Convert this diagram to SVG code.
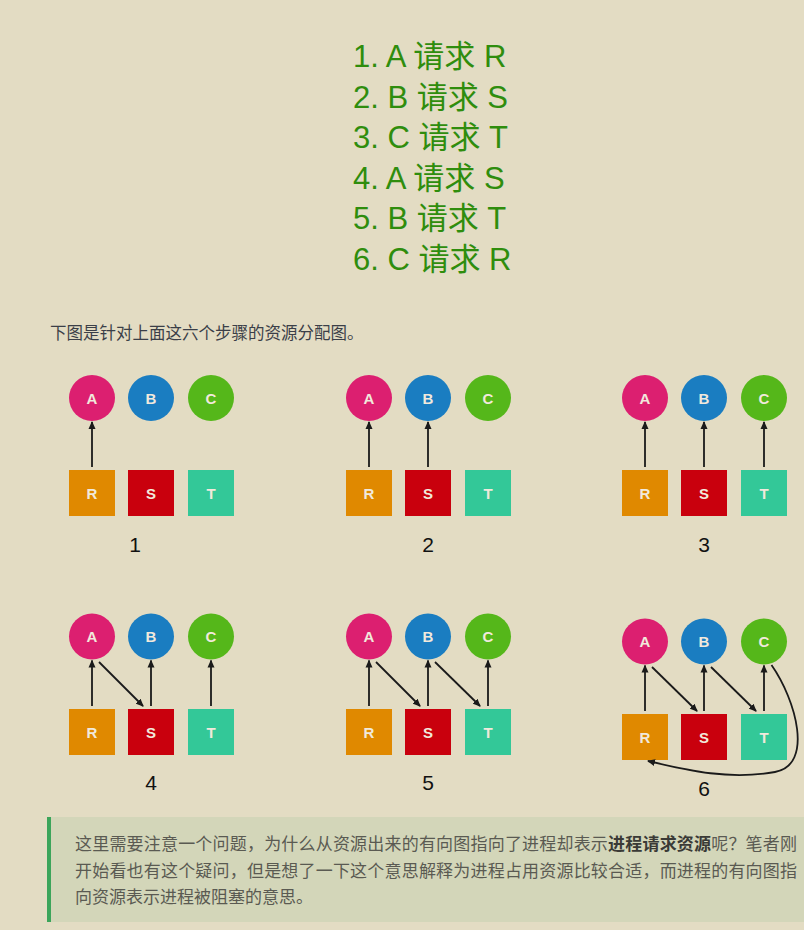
<svg xmlns="http://www.w3.org/2000/svg" width="804" height="930" viewBox="0 0 804 930">
<style>
.h{font-family:"Liberation Sans","Noto Sans CJK SC",sans-serif;font-size:31px;fill:#2f8d0d}
.cap{font-family:"Liberation Sans","Noto Sans CJK SC",sans-serif;font-size:16.5px;fill:#3b3f48}
.q{font-family:"Liberation Sans","Noto Sans CJK SC",sans-serif;font-size:17px;fill:#5a5a52}
.lbl{font-family:"Liberation Sans","Noto Sans CJK SC",sans-serif;font-size:15px;font-weight:bold;fill:#f1e9dc;text-anchor:middle}
.num{font-family:"Liberation Sans",sans-serif;font-size:21px;fill:#111;text-anchor:middle}
.A{fill:#dc1f70}.B{fill:#1a7dc1}.C{fill:#55b71a}
.R{fill:#e08900}.S{fill:#c9000d}.T{fill:#33c898}
.e{stroke:#1a1a1a;stroke-width:1.8;fill:none;marker-end:url(#ah)}
</style>
<defs>
<marker id="ah" markerWidth="8" markerHeight="8" refX="7" refY="4" orient="auto" markerUnits="userSpaceOnUse">
<path d="M0,0.5 L8,4 L0,7.5 Z" fill="#1a1a1a"/>
</marker>
</defs>
<rect width="804" height="930" fill="#e3dcc3"/>
<g id="steps">
<text class="h" x="353" y="67">1. A 请求 R</text>
<text class="h" x="353" y="107.5">2. B 请求 S</text>
<text class="h" x="353" y="148">3. C 请求 T</text>
<text class="h" x="353" y="188.5">4. A 请求 S</text>
<text class="h" x="353" y="229">5. B 请求 T</text>
<text class="h" x="353" y="269.5">6. C 请求 R</text>
</g>
<text class="cap" x="50" y="339">下图是针对上面这六个步骤的资源分配图。</text>

<!-- Panel 1 -->
<g id="p1">
<g id="p1-A"><circle class="A" cx="92" cy="398" r="23"/><text class="lbl" x="92" y="403.5">A</text></g>
<g id="p1-B"><circle class="B" cx="151" cy="398" r="23"/><text class="lbl" x="151" y="403.5">B</text></g>
<g id="p1-C"><circle class="C" cx="211" cy="398" r="23"/><text class="lbl" x="211" y="403.5">C</text></g>
<g id="p1-R"><rect class="R" x="69" y="470" width="46" height="46"/><text class="lbl" x="92" y="498.5">R</text></g>
<g id="p1-S"><rect class="S" x="128" y="470" width="46" height="46"/><text class="lbl" x="151" y="498.5">S</text></g>
<g id="p1-T"><rect class="T" x="188" y="470" width="46" height="46"/><text class="lbl" x="211" y="498.5">T</text></g>
<text class="num" x="135" y="552">1</text>
</g>
<!-- Panel 2 -->
<g id="p2">
<g id="p2-A"><circle class="A" cx="369" cy="398" r="23"/><text class="lbl" x="369" y="403.5">A</text></g>
<g id="p2-B"><circle class="B" cx="428" cy="398" r="23"/><text class="lbl" x="428" y="403.5">B</text></g>
<g id="p2-C"><circle class="C" cx="488" cy="398" r="23"/><text class="lbl" x="488" y="403.5">C</text></g>
<g id="p2-R"><rect class="R" x="346" y="470" width="46" height="46"/><text class="lbl" x="369" y="498.5">R</text></g>
<g id="p2-S"><rect class="S" x="405" y="470" width="46" height="46"/><text class="lbl" x="428" y="498.5">S</text></g>
<g id="p2-T"><rect class="T" x="465" y="470" width="46" height="46"/><text class="lbl" x="488" y="498.5">T</text></g>
<text class="num" x="428" y="552">2</text>
</g>
<!-- Panel 3 -->
<g id="p3">
<g id="p3-A"><circle class="A" cx="645" cy="398" r="23"/><text class="lbl" x="645" y="403.5">A</text></g>
<g id="p3-B"><circle class="B" cx="704" cy="398" r="23"/><text class="lbl" x="704" y="403.5">B</text></g>
<g id="p3-C"><circle class="C" cx="764" cy="398" r="23"/><text class="lbl" x="764" y="403.5">C</text></g>
<g id="p3-R"><rect class="R" x="622" y="470" width="46" height="46"/><text class="lbl" x="645" y="498.5">R</text></g>
<g id="p3-S"><rect class="S" x="681" y="470" width="46" height="46"/><text class="lbl" x="704" y="498.5">S</text></g>
<g id="p3-T"><rect class="T" x="741" y="470" width="46" height="46"/><text class="lbl" x="764" y="498.5">T</text></g>
<text class="num" x="704" y="552">3</text>
</g>
<!-- Panel 4 -->
<g id="p4">
<g id="p4-A"><circle class="A" cx="92" cy="636.5" r="23"/><text class="lbl" x="92" y="642">A</text></g>
<g id="p4-B"><circle class="B" cx="151" cy="636.5" r="23"/><text class="lbl" x="151" y="642">B</text></g>
<g id="p4-C"><circle class="C" cx="211" cy="636.5" r="23"/><text class="lbl" x="211" y="642">C</text></g>
<g id="p4-R"><rect class="R" x="69" y="709" width="46" height="46"/><text class="lbl" x="92" y="737.5">R</text></g>
<g id="p4-S"><rect class="S" x="128" y="709" width="46" height="46"/><text class="lbl" x="151" y="737.5">S</text></g>
<g id="p4-T"><rect class="T" x="188" y="709" width="46" height="46"/><text class="lbl" x="211" y="737.5">T</text></g>
<text class="num" x="151" y="790">4</text>
</g>
<!-- Panel 5 -->
<g id="p5">
<g id="p5-A"><circle class="A" cx="369" cy="636.5" r="23"/><text class="lbl" x="369" y="642">A</text></g>
<g id="p5-B"><circle class="B" cx="428" cy="636.5" r="23"/><text class="lbl" x="428" y="642">B</text></g>
<g id="p5-C"><circle class="C" cx="488" cy="636.5" r="23"/><text class="lbl" x="488" y="642">C</text></g>
<g id="p5-R"><rect class="R" x="346" y="709" width="46" height="46"/><text class="lbl" x="369" y="737.5">R</text></g>
<g id="p5-S"><rect class="S" x="405" y="709" width="46" height="46"/><text class="lbl" x="428" y="737.5">S</text></g>
<g id="p5-T"><rect class="T" x="465" y="709" width="46" height="46"/><text class="lbl" x="488" y="737.5">T</text></g>
<text class="num" x="428" y="790">5</text>
</g>
<!-- Panel 6 -->
<g id="p6">
<g id="p6-A"><circle class="A" cx="645" cy="641.5" r="23"/><text class="lbl" x="645" y="647">A</text></g>
<g id="p6-B"><circle class="B" cx="704" cy="641.5" r="23"/><text class="lbl" x="704" y="647">B</text></g>
<g id="p6-C"><circle class="C" cx="764" cy="641.5" r="23"/><text class="lbl" x="764" y="647">C</text></g>
<g id="p6-R"><rect class="R" x="622" y="714" width="46" height="46"/><text class="lbl" x="645" y="742.5">R</text></g>
<g id="p6-S"><rect class="S" x="681" y="714" width="46" height="46"/><text class="lbl" x="704" y="742.5">S</text></g>
<g id="p6-T"><rect class="T" x="741" y="714" width="46" height="46"/><text class="lbl" x="764" y="742.5">T</text></g>
<text class="num" x="704" y="796">6</text>
</g>

<g id="connectors">
<path class="e" d="M92,467 V422"/>
<path class="e" d="M369,467 V422"/>
<path class="e" d="M428,467 V422"/>
<path class="e" d="M645,467 V422"/>
<path class="e" d="M704,467 V422"/>
<path class="e" d="M764,467 V422"/>
<path class="e" d="M92,706 V660.5"/>
<path class="e" d="M99,662 L143,706"/>
<path class="e" d="M151,706 V660.5"/>
<path class="e" d="M211,706 V660.5"/>
<path class="e" d="M369,706 V660.5"/>
<path class="e" d="M376,662 L420,706"/>
<path class="e" d="M428,706 V660.5"/>
<path class="e" d="M435,662 L480,706"/>
<path class="e" d="M488,706 V660.5"/>
<path class="e" d="M645,711 V665.5"/>
<path class="e" d="M652,667 L697,711"/>
<path class="e" d="M704,711 V665.5"/>
<path class="e" d="M711,667 L756,711"/>
<path class="e" d="M764,711 V665.5"/>
<path class="e" d="M771.5,665 C796,700 814,765 775,772 C730,780 690,771 648,761"/>
</g>

<g id="note">
<rect x="50" y="817" width="754" height="105" fill="#d3d6b9"/>
<rect x="47" y="817" width="4" height="105" fill="#3ba55a"/>
<text class="q" x="75" y="850" textLength="722" lengthAdjust="spacing">这里需要注意一个问题，为什么从资源出来的有向图指向了进程却表示<tspan font-weight="bold" fill="#3a3a36">进程请求资源</tspan>呢？笔者刚</text>
<text class="q" x="75" y="877" textLength="722" lengthAdjust="spacing">开始看也有这个疑问，但是想了一下这个意思解释为进程占用资源比较合适，而进程的有向图指</text>
<text class="q" x="75" y="903">向资源表示进程被阻塞的意思。</text>
</g>
</svg>
